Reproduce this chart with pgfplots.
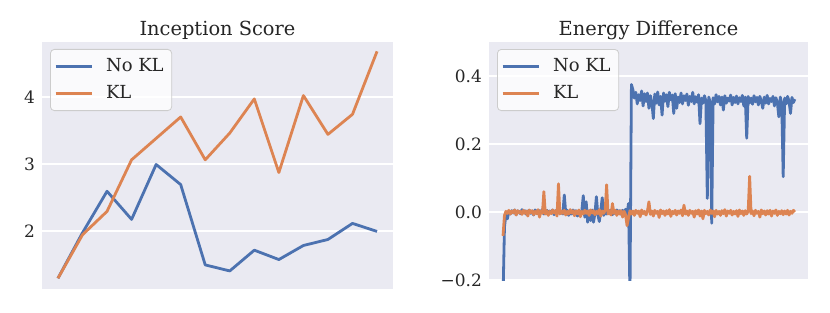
\documentclass[border=0pt]{standalone}
\usepackage{pgfplots}
\pgfplotsset{compat=1.18}
\usepackage{fontspec}
\setmainfont{DejaVu Serif}
\definecolor{sbblue}{HTML}{4C72B0}
\definecolor{sborange}{HTML}{DD8452}
\definecolor{sbbg}{HTML}{EAEAF2}
\definecolor{sbtext}{HTML}{262626}
\pgfplotsset{
  sbstyle/.style={
    scale only axis,
    axis background/.style={fill=sbbg},
    axis line style={draw=none},
    tick style={draw=none},
    ymajorgrids,
    grid style={white, line width=0.8pt},
    xtick=\empty,
    /pgf/number format/assume math mode=true,
    tick label style={font=\fontsize{8.5}{10}\selectfont, text=sbtext},
    title style={font=\fontsize{9.7}{11}\selectfont, text=sbtext, yshift=-8.5pt},
    legend style={at={(0,1)}, anchor=north west, xshift=4pt, yshift=-3.5pt,
      fill=white, fill opacity=0.8, text opacity=1, draw=black!20, rounded corners=2pt,
      font=\fontsize{9}{11}\selectfont, text=sbtext, inner xsep=2pt, inner ysep=2.5pt,
      row sep=1.5pt},
    legend cell align=left,
    legend image code/.code={\draw[#1, line width=1.2pt] (0pt,0pt) -- (18pt,0pt); \path (22.5pt,0pt);},
    every axis plot/.append style={line width=1.4pt, line join=round},
  }
}
\begin{document}
\begin{tikzpicture}
\begin{axis}[sbstyle, at={(21pt,11.5pt)}, anchor=south west,
  width=175.5pt, height=123.5pt,
  xmin=-0.65, xmax=13.65, ymin=1.13, ymax=4.82,
  ytick={2,3,4},
  title={Inception Score}]
\addplot[sbblue] coordinates {(0,1.29) (1,1.97) (2,2.59) (3,2.17) (4,2.99) (5,2.69) (6,1.49) (7,1.40) (8,1.71) (9,1.57) (10,1.78) (11,1.87) (12,2.11) (13,1.99)};
\addlegendentry{No KL}
\addplot[sborange] coordinates {(0,1.29) (1,1.94) (2,2.29) (3,3.06) (4,3.38) (5,3.70) (6,3.06) (7,3.46) (8,3.97) (9,2.87) (10,4.02) (11,3.44) (12,3.74) (13,4.68)};
\addlegendentry{KL}
\end{axis}
\begin{axis}[sbstyle, at={(244.5pt,16pt)}, anchor=south west,
  width=159.5pt, height=119pt,
  xmin=-48, xmax=1045, ymin=-0.2, ymax=0.5,
  ytick={-0.2,0,0.2,0.4},
  yticklabels={−0.2,0.0,0.2,0.4},
  title={Energy Difference}]
\addplot[sbblue] table {
x y
0 -0.250
5 -0.045
10 -0.005
15 -0.020
20 0.002
25 -0.006
30 0.004
35 -0.003
40 0.006
45 -0.008
50 0.003
55 0.001
60 -0.005
65 0.007
70 -0.002
75 0.004
80 -0.007
85 0.002
90 0.005
95 -0.004
100 0.003
105 -0.009
110 0.006
115 0.000
120 -0.005
125 0.004
130 -0.002
135 0.008
140 -0.006
145 0.002
150 0.005
155 -0.007
160 0.003
165 -0.001
170 0.006
175 -0.008
180 0.004
185 -0.003
190 0.007
195 -0.005
200 0.002
205 -0.006
210 0.050
215 -0.004
220 0.005
225 -0.010
230 0.003
235 -0.006
240 0.006
245 -0.003
250 0.004
255 -0.012
260 0.002
265 -0.005
270 0.003
275 0.048
280 -0.015
285 0.030
290 -0.030
295 0.004
300 -0.025
305 0.006
310 -0.030
315 -0.004
320 0.045
325 -0.008
330 -0.028
335 0.005
340 0.042
345 -0.010
350 0.004
355 -0.006
360 0.007
365 -0.003
370 0.005
375 -0.008
380 0.003
385 -0.005
390 0.006
395 -0.002
400 0.004
405 -0.007
410 0.005
415 -0.003
420 0.008
425 -0.006
430 0.025
435 -0.250
440 0.375
445 0.360
450 0.335
455 0.352
460 0.318
465 0.345
470 0.328
475 0.356
480 0.312
485 0.348
490 0.325
495 0.350
500 0.305
505 0.342
510 0.322
515 0.275
520 0.347
525 0.320
530 0.353
535 0.315
540 0.340
545 0.285
550 0.350
555 0.326
560 0.345
565 0.310
570 0.352
575 0.330
580 0.344
585 0.290
590 0.348
595 0.305
600 0.338
605 0.322
610 0.350
615 0.318
620 0.342
625 0.328
630 0.347
635 0.314
640 0.340
645 0.325
650 0.352
655 0.318
660 0.339
665 0.323
670 0.345
675 0.260
680 0.335
685 0.320
690 0.342
695 0.328
700 0.040
705 0.338
710 0.322
715 -0.033
720 0.336
725 0.318
730 0.345
735 0.324
740 0.340
745 0.315
750 0.338
755 0.300
760 0.342
765 0.320
770 0.335
775 0.326
780 0.344
785 0.315
790 0.337
795 0.322
800 0.341
805 0.318
810 0.336
815 0.325
820 0.343
825 0.312
830 0.338
835 0.217
840 0.340
845 0.321
850 0.335
855 0.317
860 0.342
865 0.324
870 0.337
875 0.315
880 0.340
885 0.326
890 0.305
895 0.338
900 0.320
905 0.343
910 0.318
915 0.334
920 0.325
925 0.340
930 0.312
935 0.336
940 0.322
945 0.280
950 0.338
955 0.320
960 0.104
965 0.335
970 0.318
975 0.340
980 0.326
985 0.290
990 0.337
995 0.322
1000 0.332
};
\addlegendentry{No KL}
\addplot[sborange] table {
x y
0 -0.070
5 -0.010
10 0.002
15 -0.004
20 0.005
25 -0.006
30 0.003
35 -0.002
40 0.006
45 -0.009
50 0.004
55 -0.003
60 0.002
65 -0.007
70 0.005
75 -0.004
80 0.003
85 -0.012
90 0.006
95 -0.002
100 0.004
105 -0.008
110 0.002
115 -0.005
120 0.007
125 -0.015
130 0.003
135 -0.004
140 0.060
145 -0.006
150 0.004
155 -0.010
160 0.002
165 -0.005
170 0.006
175 -0.003
180 0.004
185 -0.012
190 0.083
195 -0.006
200 0.003
205 -0.004
210 0.005
215 -0.009
220 0.002
225 -0.006
230 0.007
235 -0.003
240 0.004
245 -0.011
250 0.003
255 -0.005
260 0.006
265 -0.014
270 0.002
275 -0.006
280 0.005
285 -0.004
290 0.003
295 -0.010
300 0.006
305 -0.003
310 0.004
315 -0.008
320 0.002
325 -0.005
330 0.007
335 -0.012
340 0.003
345 -0.004
350 0.005
355 0.080
360 -0.006
365 0.003
370 -0.009
375 0.025
380 -0.004
385 0.005
390 -0.010
395 0.003
400 -0.006
405 0.004
410 -0.015
415 0.002
420 -0.008
425 -0.040
430 -0.018
435 0.004
440 -0.006
445 0.003
450 -0.010
455 0.005
460 -0.004
465 0.003
470 -0.014
475 0.006
480 -0.005
485 0.002
490 -0.009
495 0.004
500 0.030
505 -0.007
510 0.003
515 -0.012
520 0.005
525 -0.004
530 0.002
535 -0.016
540 0.006
545 -0.005
550 0.003
555 -0.010
560 0.004
565 -0.006
570 0.007
575 -0.013
580 0.002
585 -0.005
590 0.005
595 -0.009
600 0.003
605 -0.004
610 0.006
615 -0.011
620 0.020
625 -0.006
630 0.003
635 -0.010
640 0.005
645 -0.004
650 0.002
655 -0.015
660 0.004
665 -0.006
670 0.006
675 -0.012
680 0.003
685 -0.020
690 0.005
695 -0.005
700 0.002
705 -0.009
710 0.006
715 -0.004
720 0.003
725 -0.014
730 0.005
735 -0.006
740 0.002
745 -0.010
750 0.004
755 -0.005
760 0.007
765 -0.012
770 0.003
775 -0.004
780 0.005
785 -0.009
790 0.002
795 -0.006
800 0.004
805 -0.013
810 0.006
815 -0.005
820 0.003
825 -0.010
830 0.004
835 -0.006
840 0.002
845 0.105
850 -0.005
855 0.003
860 -0.011
865 0.005
870 -0.004
875 0.002
880 -0.015
885 0.006
890 -0.005
895 0.003
900 -0.009
905 0.004
910 -0.006
915 0.005
920 -0.012
925 0.003
930 -0.004
935 0.006
940 -0.010
945 0.002
950 -0.005
955 0.004
960 -0.008
965 0.003
970 -0.006
975 0.005
980 -0.009
985 0.002
990 -0.004
995 0.005
1000 0.000
};
\addlegendentry{KL}
\end{axis}
\pgfresetboundingbox
\useasboundingbox (0,0) rectangle (415pt,156pt);
\end{tikzpicture}
\end{document}
